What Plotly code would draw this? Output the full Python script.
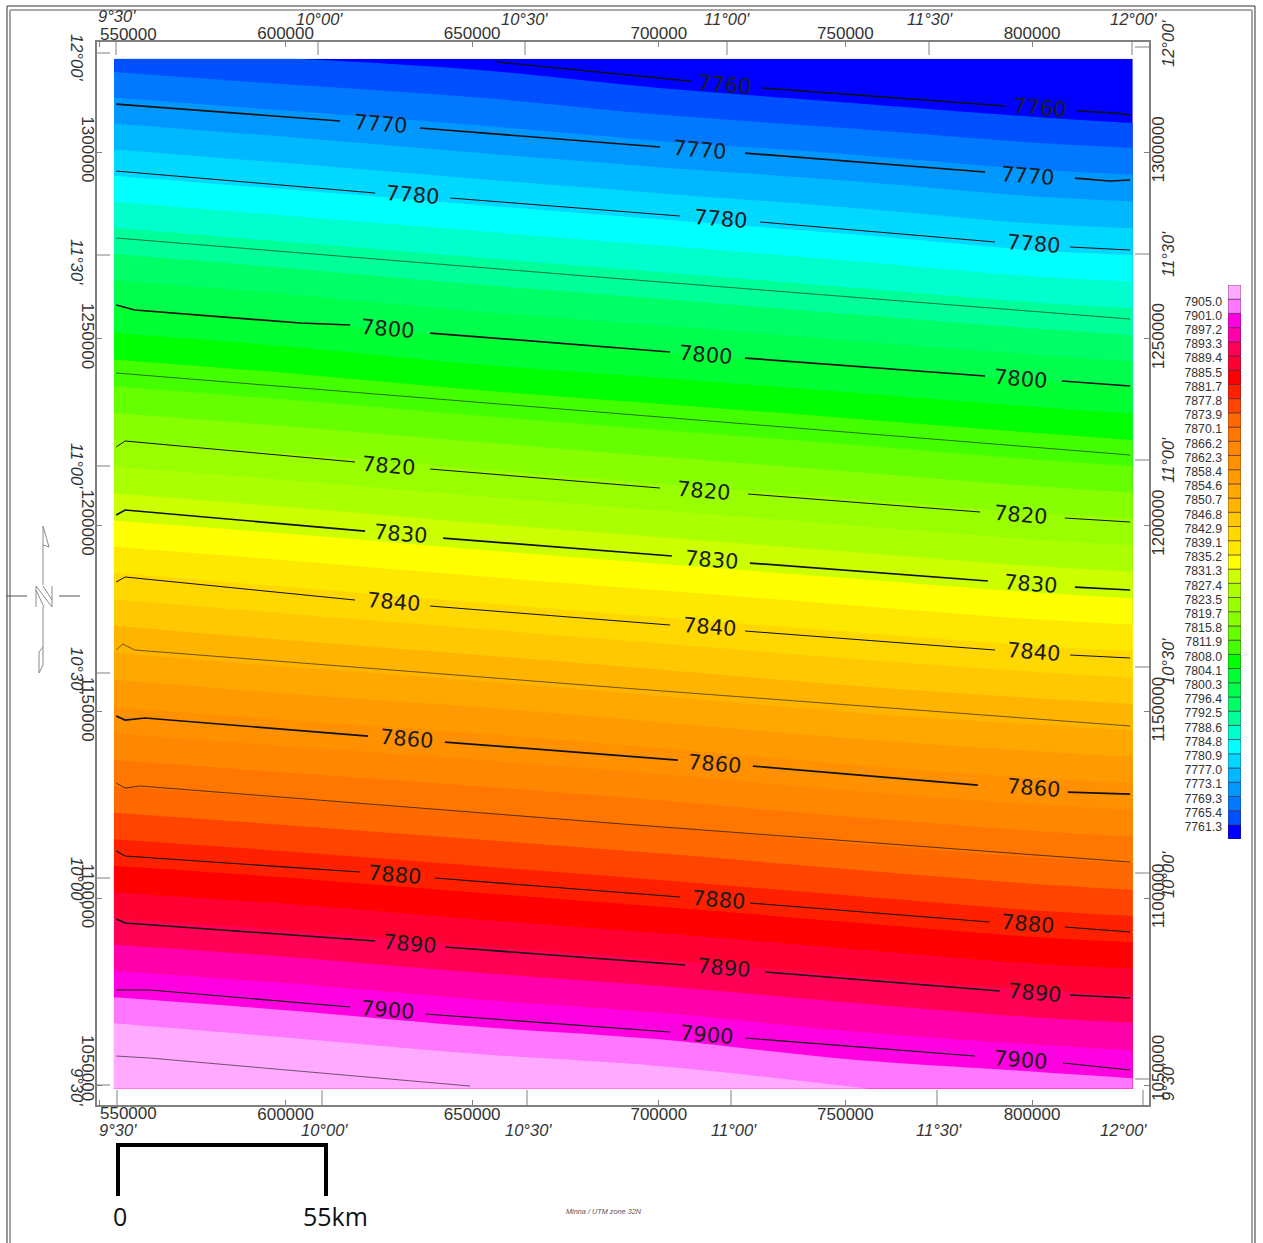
import plotly.graph_objects as go

W, H = 1263, 1243
def px(x): return x / W
def py(y): return 1 - y / H

# ---------- gridded field (easting / northing in km) ----------
grid_e = [554, 600, 650, 700, 750, 800, 827]
grid_n = [1325, 1300, 1275, 1250, 1225, 1200, 1175, 1150, 1125, 1100, 1075, 1049]
grid_z = [
    [7763.2, 7761.4, 7759.8, 7757.0, 7754.7, 7752.6, 7751.3],
    [7777.2, 7775.2, 7772.9, 7770.7, 7768.8, 7766.6, 7765.8],
    [7791.1, 7789.0, 7786.8, 7784.6, 7782.4, 7780.0, 7779.3],
    [7804.9, 7802.9, 7800.2, 7798.2, 7796.0, 7793.9, 7792.9],
    [7818.4, 7816.5, 7814.3, 7812.1, 7810.0, 7807.8, 7806.7],
    [7831.9, 7830.0, 7827.7, 7825.6, 7823.5, 7821.4, 7820.5],
    [7845.7, 7843.6, 7841.4, 7839.2, 7837.1, 7835.0, 7834.2],
    [7859.1, 7857.2, 7855.3, 7853.0, 7850.6, 7848.8, 7847.9],
    [7872.8, 7871.0, 7869.0, 7866.9, 7864.5, 7862.4, 7861.6],
    [7886.5, 7884.8, 7882.6, 7880.5, 7878.3, 7876.1, 7875.2],
    [7900.3, 7898.5, 7896.2, 7894.2, 7891.9, 7889.7, 7889.0],
    [7914.8, 7912.3, 7910.0, 7908.3, 7905.2, 7903.6, 7902.6],
]

# ---------- legend classes ----------
legend_labels = ["7761.3", "7765.4", "7769.3", "7773.1", "7777.0", "7780.9", "7784.8", "7788.6",
                 "7792.5", "7796.4", "7800.3", "7804.1", "7808.0", "7811.9", "7815.8", "7819.7",
                 "7823.5", "7827.4", "7831.3", "7835.2", "7839.1", "7842.9", "7846.8", "7850.7",
                 "7854.6", "7858.4", "7862.3", "7866.2", "7870.1", "7873.9", "7877.8", "7881.7",
                 "7885.5", "7889.4", "7893.3", "7897.2", "7901.0", "7905.0"]
class_colors = ["#0000ff", "#0050ff", "#0078ff", "#0098ff", "#00b8ff", "#00d8ff", "#00ffff", "#00ffcc",
                "#00ff99", "#00ff66", "#00ff4d", "#00ff33", "#00ff00", "#44ff00", "#66ff00", "#88ff00",
                "#99ff00", "#aaff00", "#ccff00", "#ffff00", "#ffe800", "#ffd800", "#ffc800", "#ffb400",
                "#ffa800", "#ff9a00", "#ff9000", "#ff8800", "#ff7700", "#ff6a00", "#ff4400", "#ff2000",
                "#ff0000", "#ff0033", "#ff0055", "#ff00aa", "#ff00e0", "#ff77ff", "#ffaaff"]
legend_class_height = [1] * 39
legend_base = list(range(39))

# ---------- isolines (easting, northing km; None = gap for a label) ----------
e_7760 = [656.6, 708.9, None, 727.7, 792.8, None, 812.1, 822.2, 826.3]
n_7760 = [1324.12, 1318.96, None, 1317.15, 1312.33, None, 1310.99, 1310.45, 1309.91]
e_7770 = [554.6, 614.6, None, 636.0, 700.3, None, 723.1, 787.4, None, 811.5, 820.9, 826.3]
n_7770 = [1312.86, 1308.31, None, 1306.43, 1301.34, None, 1299.73, 1294.64, None, 1293.03, 1292.23, 1292.50]
e_7780 = [554.6, 624.0, None, 644.1, 705.7, None, 727.1, 790.1, None, 810.2, 826.3]
n_7780 = [1294.91, 1289.01, None, 1287.68, 1282.85, None, 1281.25, 1275.89, None, 1274.55, 1273.74]
e_7790 = [554.6, 690.4, 826.3]
n_7790 = [1276.96, 1265.97, 1255.25]
e_7800 = [554.6, 559.6, 603.9, 617.3, None, 638.7, 703.0, None, 723.1, 787.4, None, 808.0, 826.3]
n_7800 = [1259.01, 1257.67, 1254.18, 1253.65, None, 1251.50, 1246.41, None, 1244.80, 1239.98, None, 1238.64, 1237.30]
e_7810 = [554.6, 690.4, 826.3]
n_7810 = [1240.78, 1229.80, 1218.81]
e_7820 = [554.6, 557.0, 618.6, None, 638.7, 700.3, None, 723.9, 786.1, None, 808.8, 826.3]
n_7820 = [1220.96, 1222.56, 1216.94, None, 1215.06, 1209.97, None, 1208.36, 1203.54, None, 1201.93, 1200.86]
e_7830 = [554.6, 557.0, 621.3, None, 642.2, 703.5, None, 724.4, 788.2, None, 811.5, 826.3]
n_7830 = [1202.74, 1204.08, 1198.44, None, 1196.57, 1191.75, None, 1189.87, 1185.05, None, 1183.44, 1182.64]
e_7840 = [554.6, 557.0, 618.6, None, 638.7, 703.0, None, 723.1, 790.1, None, 810.2, 826.3]
n_7840 = [1184.78, 1186.12, 1179.96, None, 1178.35, 1173.26, None, 1171.65, 1166.56, None, 1165.22, 1164.42]
e_7850 = [554.6, 556.4, 559.6, 690.4, 826.3]
n_7850 = [1166.56, 1168.17, 1166.56, 1156.38, 1146.20]
e_7860 = [554.6, 557.0, 562.3, 622.1, None, 642.7, 705.1, None, 725.2, 785.5, None, 809.6, 826.3]
n_7860 = [1148.87, 1147.80, 1148.34, 1143.51, None, 1141.90, 1137.08, None, 1135.47, 1130.38, None, 1128.50, 1127.97]
e_7870 = [554.6, 557.0, 561.0, 690.4, 826.3]
n_7870 = [1130.92, 1129.58, 1130.12, 1119.94, 1109.75]
e_7880 = [554.6, 557.0, 619.9, None, 640.0, 705.7, None, 724.4, 788.7, None, 808.8, 826.3]
n_7880 = [1112.70, 1111.36, 1107.07, None, 1105.47, 1100.38, None, 1098.77, 1093.68, None, 1092.34, 1091.00]
e_7890 = [554.6, 557.0, 624.0, None, 642.7, 707.0, None, 728.5, 791.4, None, 810.2, 826.3]
n_7890 = [1094.48, 1093.41, 1088.58, None, 1086.98, 1082.16, None, 1080.28, 1075.19, None, 1074.12, 1073.32]
e_7900 = [554.6, 563.7, 617.3, None, 637.4, 703.0, None, 723.1, 784.7, None, 808.3, 826.3]
n_7900 = [1075.46, 1075.46, 1070.90, None, 1069.03, 1064.20, None, 1062.59, 1057.77, None, 1055.90, 1054.02]
e_7910 = [554.6, 563.7, 649.4]
n_7910 = [1057.77, 1057.23, 1049.73]

isolines = [(e_7760, n_7760, 1.4), (e_7770, n_7770, 1.7), (e_7780, n_7780, 1.0), (e_7790, n_7790, 0.6),
            (e_7800, n_7800, 1.7), (e_7810, n_7810, 0.6), (e_7820, n_7820, 1.0), (e_7830, n_7830, 1.7),
            (e_7840, n_7840, 1.0), (e_7850, n_7850, 0.6), (e_7860, n_7860, 1.7), (e_7870, n_7870, 0.7),
            (e_7880, n_7880, 1.1), (e_7890, n_7890, 1.6), (e_7900, n_7900, 1.1), (e_7910, n_7910, 0.6)]

# ---------- isoline labels ----------
label_text = ["7760", "7760",
              "7770", "7770", "7770", "7780", "7780", "7780", "7800", "7800", "7800",
              "7820", "7820", "7820", "7830", "7830", "7830", "7840", "7840", "7840",
              "7860", "7860", "7860", "7880", "7880", "7880", "7890", "7890", "7890",
              "7900", "7900", "7900"]
label_e = [717.7, 802.1,
           625.3, 711.0, 798.7, 633.9, 716.4, 800.3, 627.4, 712.6, 797.0,
           627.7, 712.1, 797.0, 630.9, 714.0, 799.5, 628.8, 713.5, 800.3,
           632.5, 714.8, 800.3, 629.3, 715.9, 798.9, 633.3, 717.3, 800.8,
           627.2, 712.9, 796.8]
label_n = [1317.95, 1311.79,
           1307.5, 1300.54, 1293.57, 1288.48, 1282.05, 1275.35, 1252.57, 1245.62, 1239.17,
           1215.86, 1209.17, 1202.74, 1197.65, 1190.68, 1184.25, 1179.43, 1172.73, 1166.03,
           1142.71, 1136.01, 1129.58, 1106.27, 1099.57, 1093.14, 1087.78, 1081.35, 1074.66,
           1070.10, 1063.40, 1056.70]

# ---------- axis ticks ----------
east_ticks = [550, 600, 650, 700, 750, 800]
east_text = ["", "600000", "650000", "700000", "750000", "800000"]
north_ticks = [1300, 1250, 1200, 1150, 1100, 1050]
north_text = ["1300000", "1250000", "1200000", "1150000", "1100000", ""]
lon_labels = ["9°30'", "10°00'", "10°30'", "11°00'", "11°30'", "12°00'"]
lat_labels = ["12°00'", "11°30'", "11°00'", "10°30'", "10°00'", "9°30'"]

GREY = "#808080"
TXT = "#333333"
SANS = "Liberation Sans"

n_levels = len(legend_labels)
colorscale = [[k / n_levels, c] for k, c in enumerate(class_colors)]

fig = go.Figure()
fig.add_trace(go.Contour(
    x=grid_e, y=grid_n[::-1], z=grid_z[::-1], colorscale=colorscale, showscale=False,
    contours=dict(start=float(legend_labels[0]), end=float(legend_labels[-1]),
                  size=(float(legend_labels[-1]) - float(legend_labels[0])) / (n_levels - 1),
                  coloring="fill", showlines=False),
    line=dict(width=0), hoverinfo="skip"))
for e, n, lw in isolines:
    fig.add_trace(go.Scatter(x=e, y=n, mode="lines", line=dict(color="#101010", width=lw),
                             connectgaps=False, showlegend=False, hoverinfo="skip"))
# carries the top and right copies of the frame axes
fig.add_trace(go.Scatter(x=[east_ticks[1]], y=[north_ticks[1]], xaxis="x2", yaxis="y2", mode="markers",
                         marker=dict(opacity=0), showlegend=False, hoverinfo="skip"))
fig.add_trace(go.Bar(x=[0] * 39, y=legend_class_height, base=legend_base, xaxis="x3", yaxis="y3",
                     width=1, marker=dict(color=class_colors, line=dict(color="rgba(60,30,60,0.7)", width=0.8)),
                     showlegend=False, hoverinfo="skip"))

def frame_x(**kw):
    return dict(range=[549.46, 831.35], domain=[px(97), px(1149)], tickmode="array", tickvals=east_ticks,
                ticktext=east_text, ticks="inside", ticklen=5, tickcolor=GREY, tickwidth=1,
                showline=True, linecolor=GREY, linewidth=1.5, showgrid=False, zeroline=False,
                tickfont=dict(family=SANS, size=17, color=TXT), **kw)

def frame_y(**kw):
    return dict(range=[1044.65, 1329.48], domain=[py(1105), py(42)], tickmode="array", tickvals=north_ticks,
                ticktext=north_text, ticks="inside", ticklen=5, tickcolor=GREY, tickwidth=1,
                showline=True, linecolor=GREY, linewidth=1.5, showgrid=False, zeroline=False,
                tickfont=dict(family=SANS, size=17, color=TXT), **kw)

annotations = []
def note(x, y, text, size=16.5, angle=0, italic=True, family=SANS, color=TXT):
    annotations.append(dict(x=px(x), y=py(y), xref="paper", yref="paper", text=text, showarrow=False,
                            xanchor="center", yanchor="middle", textangle=angle,
                            font=dict(family=family, size=size, color=color, style="italic" if italic else "normal")))

for t, e, n in zip(label_text, label_e, label_n):
    annotations.append(dict(x=e, y=n, xref="x", yref="y", text=t, showarrow=False, textangle=4.6,
                            xanchor="center", yanchor="middle",
                            font=dict(family="DejaVu Sans", size=21, color="#1c1c1c")))

for x, t, y in zip([117, 320, 524, 727, 930, 1133], lon_labels, [16, 19, 19, 19, 19, 19]): note(x, y, t)
for x, t in zip([118, 324, 528, 734, 939, 1123], lon_labels): note(x, 1130, t)
for y, t in zip([57, 262, 466, 670, 880, 1087], lat_labels): note(77, y, t, angle=90)
for y, t in zip([44, 254, 460, 662, 875, 1082], lat_labels): note(1168, y, t, angle=-90)
note(128, 34, "550000", 17, italic=False)
note(128, 1113, "550000", 17, italic=False)
note(88, 1068, "1050000", 17, 90, italic=False)
note(1158, 1068, "1050000", 17, -90, italic=False)
note(120, 1216, "0", 25, italic=False, family="Open Sans", color="#111111")
note(335, 1216, "55km", 25, italic=False, family="Open Sans", color="#111111")
note(604, 1211, "Minna / UTM zone 32N", 7.3, color="#555555")

shapes = []
def seg(x0, y0, x1, y1, color=GREY, width=1):
    shapes.append(dict(type="line", xref="paper", yref="paper", x0=px(x0), y0=py(y0), x1=px(x1), y1=py(y1),
                       line=dict(color=color, width=width)))
def poly(points, color="#8a8a8a", width=1):
    path = "M" + " L".join(f"{px(a)},{py(b)}" for a, b in points)
    shapes.append(dict(type="path", xref="paper", yref="paper", path=path, line=dict(color=color, width=width)))

# graticule ticks around the frame
for x in [116, 318, 525, 727, 929, 1132]: seg(x, 42, x, 55)
for x in [117, 322, 527, 731, 937, 1143]: seg(x, 1090, x, 1105)
for y in [53, 255, 466, 673, 878, 1085]: seg(97, y, 110, y)
for y in [47, 254, 460, 667, 873, 1079]: seg(1135, y, 1149, y)
# page border
seg(7, 6, 1255, 6, "#333333", 1); seg(7, 6, 7, 1243, "#333333", 1); seg(1255, 6, 1255, 1243, "#333333", 1)
seg(10, 10, 1252, 10, "#a8a8a8", 2); seg(10, 10, 10, 1243, "#a8a8a8", 2); seg(1252, 10, 1252, 1243, "#a8a8a8", 2)
# north arrow
seg(6, 596, 27, 596, "#555555"); seg(59, 596, 80, 596, "#555555")
poly([(43, 585), (43, 526), (49, 547), (43, 545)])
poly([(36, 607), (36, 586), (52, 607), (52, 586)])
poly([(43, 586), (52, 600)]); poly([(36, 590), (44, 607)])
poly([(43, 607), (43, 665), (39, 673), (39, 652), (43, 647)])
# scale bar
seg(116, 1145, 328, 1145, "#000000", 4); seg(118, 1143, 118, 1196, "#000000", 4); seg(326, 1143, 326, 1196, "#000000", 4)

fig.update_layout(
    width=W, height=H, margin=dict(l=0, r=0, t=0, b=0), paper_bgcolor="white", plot_bgcolor="white",
    showlegend=False, barmode="overlay", font=dict(family=SANS),
    xaxis=frame_x(side="bottom", anchor="y", ticklabelstandoff=-7),
    yaxis=frame_y(side="left", anchor="x", tickangle=90, ticklabelstandoff=-7),
    xaxis2=frame_x(side="top", anchor="y2", overlaying="x", ticklabelstandoff=-6),
    yaxis2=frame_y(side="right", anchor="x2", overlaying="y", tickangle=-90, ticklabelstandoff=-7),
    xaxis3=dict(domain=[px(1228), px(1241)], range=[-0.5, 0.5], anchor="y3", visible=False),
    yaxis3=dict(domain=[py(839), py(285)], range=[0, 39], anchor="x3", side="left", tickmode="array",
                tickvals=list(range(1, 39)), ticktext=legend_labels, ticks="", showline=False, showgrid=False,
                zeroline=False, ticklabelstandoff=5, ticklabelshift=2,
                tickfont=dict(family=SANS, size=12.3, color=TXT)),
    annotations=annotations, shapes=shapes)

fig.write_html("out.html", post_script="document.body.style.margin='0';",
               config={"displayModeBar": False})
